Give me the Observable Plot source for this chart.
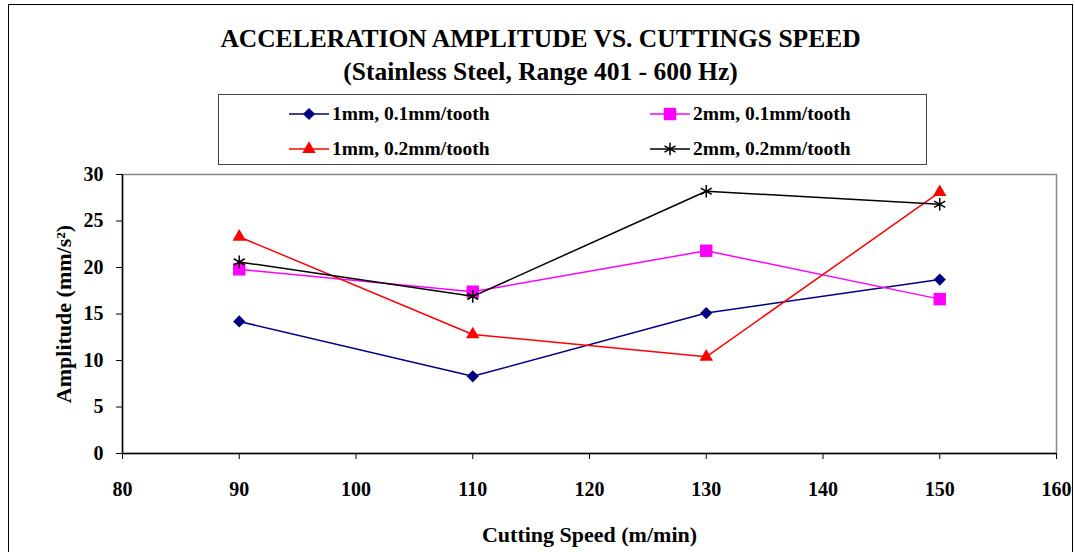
<!DOCTYPE html>
<html>
<head>
<meta charset="utf-8">
<script src="https://cdn.jsdelivr.net/npm/d3@7"></script>
<script src="https://cdn.jsdelivr.net/npm/@observablehq/plot@0.6"></script>
<style>
  html, body { margin: 0; padding: 0; background: #fff; overflow: hidden; }
  #wrap { position: relative; width: 1075px; height: 552px; overflow: hidden; font-family: "Liberation Serif", "Times New Roman", serif; font-weight: bold; }
  #frame { position: absolute; left: 8px; top: 4px; width: 1065px; height: 570px; border: 1.5px solid #000; box-sizing: border-box; }
  #title { position: absolute; left: 8px; width: 1065px; top: 22px; text-align: center; font-size: 25.5px; line-height: 33px; color: #000; }
  #legend { position: absolute; left: 218px; top: 94px; width: 709px; height: 71px; border: 1px solid #444; box-sizing: border-box; background: #fff; }
  #chart { position: absolute; left: 0; top: 0; }
  .leg { position: absolute; display: flex; align-items: center; font-size: 19.5px; white-space: nowrap; }
</style>
</head>
<body>
<div id="wrap">
  <div id="chart"></div>
  <div id="frame"></div>
  <div id="title">ACCELERATION AMPLITUDE VS. CUTTINGS SPEED<br>(Stainless Steel, Range 401 - 600 Hz)</div>
  <div id="legend"></div>
</div>
<script>
const speeds = [90, 110, 130, 150];
const seriesNames = ["1mm, 0.1mm/tooth", "2mm, 0.1mm/tooth", "1mm, 0.2mm/tooth", "2mm, 0.2mm/tooth"];
const s1mm01 = [14.2, 8.3, 15.1, 18.7];
const s2mm01 = [19.8, 17.4, 21.8, 16.6];
const s1mm02 = [23.3, 12.8, 10.4, 28.1];
const s2mm02 = [20.6, 16.9, 28.2, 26.8];
const seriesColors = ["#000080", "#FF00FF", "#FF0000", "#000000"];
const seriesSymbols = ["diamond2", "square", "triangle", "asterisk"];
const xTicks = [80, 90, 100, 110, 120, 130, 140, 150, 160];
const yTicks = [0, 5, 10, 15, 20, 25, 30];

const allValues = [s1mm01, s2mm01, s1mm02, s2mm02];
const rows = [];
allValues.forEach((vals, i) => vals.forEach((v, j) => rows.push({series: seriesNames[i], idx: i, speed: speeds[j], value: v})));

const symbolR = {diamond2: 5.5, square: 7, triangle: 5, asterisk: 6};

const marks = [
  Plot.frame({stroke: "#888", strokeWidth: 1.5}),
  Plot.ruleX([80], {stroke: "#000", strokeWidth: 1.5}),
  Plot.ruleY([0], {stroke: "#000", strokeWidth: 1.5}),
  Plot.axisX({ticks: xTicks, tickSize: 6, tickPadding: 22, label: null, fontSize: 20, fontWeight: "bold"}),
  Plot.axisY({ticks: yTicks, tickSize: 6, tickPadding: 13, label: null, fontSize: 20, fontWeight: "bold"}),
  Plot.text(["Cutting Speed (m/min)"], {frameAnchor: "bottom", dy: 88, fontSize: 22, fontWeight: "bold"}),
  Plot.text(["Amplitude (mm/s²)"], {frameAnchor: "left", textAnchor: "middle", dx: -59, rotate: -90, fontSize: 22, fontWeight: "bold"})
];
seriesNames.forEach((name, i) => {
  const data = rows.filter(d => d.idx === i);
  const sym = seriesSymbols[i];
  marks.push(Plot.line(data, {x: "speed", y: "value", stroke: seriesColors[i], strokeWidth: 1.5}));
  if (sym === "asterisk") {
    marks.push(Plot.dot(data, {x: "speed", y: "value", symbol: sym, stroke: seriesColors[i], strokeWidth: 1.5, r: symbolR[sym]}));
  } else {
    marks.push(Plot.dot(data, {x: "speed", y: "value", symbol: sym, fill: seriesColors[i], stroke: "none", r: symbolR[sym]}));
  }
});

const chart = Plot.plot({
  width: 1075,
  height: 552,
  marginLeft: 122,
  marginRight: 19,
  marginTop: 174,
  marginBottom: 99,
  style: {fontFamily: "Liberation Serif, Times New Roman, serif", fontWeight: "bold", fontSize: "20px", color: "#000", background: "transparent"},
  x: {domain: [80, 160]},
  y: {domain: [0, 30]},
  marks
});
document.getElementById("chart").appendChild(chart);

// Legend built from the same arrays
const legend = d3.select("#legend");
const pos = [[70, 19], [431, 19], [70, 54], [431, 54]];
const symTypes = {diamond2: d3.symbolDiamond2, square: d3.symbolSquare, triangle: d3.symbolTriangle, asterisk: d3.symbolAsterisk};
seriesNames.forEach((name, i) => {
  const sym = seriesSymbols[i];
  const item = legend.append("div").attr("class", "leg")
    .style("left", pos[i][0] + "px").style("top", (pos[i][1] - 12) + "px").style("height", "24px");
  const svg = item.append("svg").attr("width", 40).attr("height", 20).style("margin-right", "3px");
  svg.append("line").attr("x1", 0).attr("x2", 40).attr("y1", 10).attr("y2", 10)
    .attr("stroke", seriesColors[i]).attr("stroke-width", 1.5);
  const r = symbolR[sym];
  const path = svg.append("path").attr("transform", "translate(20,10)")
    .attr("d", d3.symbol(symTypes[sym], Math.PI * r * r)());
  if (sym === "asterisk") path.attr("fill", "none").attr("stroke", seriesColors[i]).attr("stroke-width", 1.5);
  else path.attr("fill", seriesColors[i]);
  item.append("span").text(name);
});
</script>
</body>
</html>
